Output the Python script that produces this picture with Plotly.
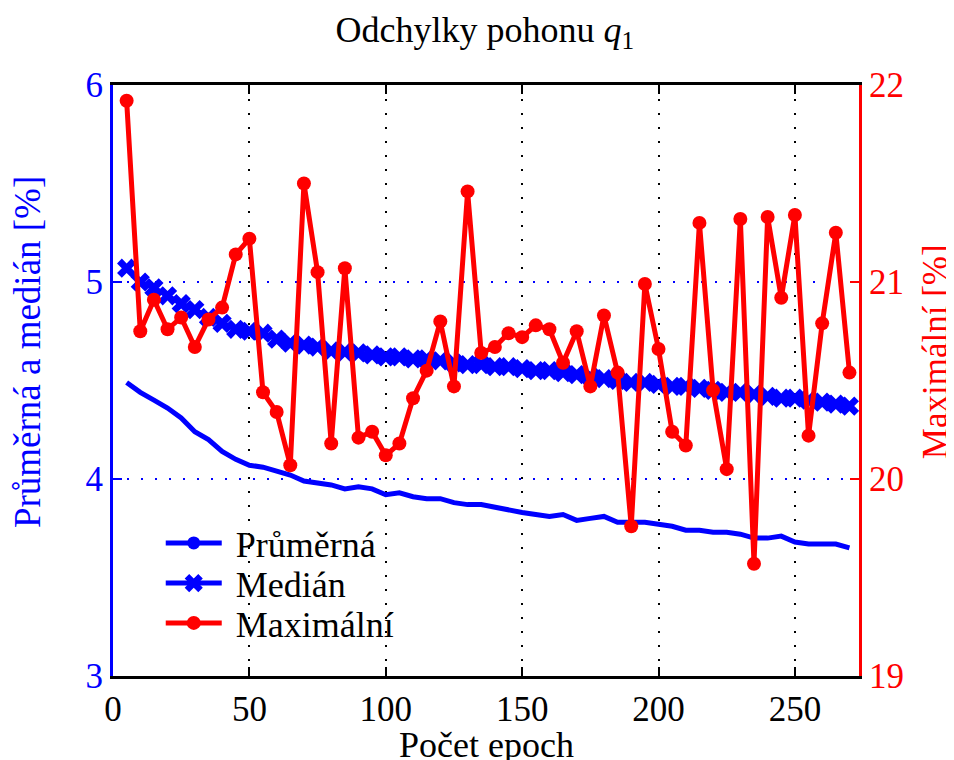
import plotly.graph_objects as go

epochs = list(range(5, 275, 5))

prumerna = [4.49, 4.44, 4.40, 4.36, 4.31, 4.24, 4.20, 4.14, 4.10, 4.07,
            4.06, 4.04, 4.02, 3.99, 3.98, 3.97, 3.95, 3.96, 3.95, 3.92,
            3.93, 3.91, 3.90, 3.90, 3.88, 3.87, 3.87, 3.855, 3.84, 3.83,
            3.82, 3.81, 3.82, 3.79, 3.80, 3.81, 3.78, 3.78, 3.78, 3.77,
            3.76, 3.74, 3.74, 3.73, 3.73, 3.72, 3.70, 3.70, 3.71, 3.68,
            3.67, 3.67, 3.67, 3.65]

median = [5.07, 5.00, 4.97, 4.93, 4.89, 4.86, 4.82, 4.79, 4.76, 4.75,
          4.74, 4.71, 4.69, 4.68, 4.67, 4.65, 4.645, 4.64, 4.63, 4.62,
          4.62, 4.61, 4.61, 4.60, 4.59, 4.58, 4.58, 4.57, 4.57, 4.56,
          4.55, 4.55, 4.54, 4.53, 4.52, 4.51, 4.50, 4.49, 4.49, 4.48,
          4.47, 4.47, 4.46, 4.45, 4.44, 4.44, 4.43, 4.42, 4.41, 4.41,
          4.40, 4.39, 4.38, 4.37]

maximalni = [21.92, 20.75, 20.91, 20.76, 20.82, 20.67, 20.81, 20.87, 21.14, 21.22,
             20.44, 20.34, 20.07, 21.50, 21.05, 20.18, 21.07, 20.21, 20.24, 20.12,
             20.18, 20.41, 20.55, 20.80, 20.47, 21.46, 20.64, 20.67, 20.74, 20.72,
             20.78, 20.76, 20.59, 20.75, 20.47, 20.83, 20.54, 19.76, 20.99, 20.66,
             20.24, 20.17, 21.30, 20.45, 20.05, 21.32, 19.57, 21.33, 20.92, 21.34,
             20.22, 20.79, 21.25, 20.54]

left_ticks = [3, 4, 5, 6]
right_ticks = [19, 20, 21, 22]
x_ticks = [0, 50, 100, 150, 200, 250]

FONT = "Liberation Serif"
BLUE = "#0000FF"
RED = "#FF0000"
NB = "\u00a0"

fig = go.Figure()

# mean line (drawn without markers; legend entry shows line + marker)
fig.add_trace(go.Scatter(x=epochs, y=prumerna, mode="lines",
                         line=dict(color=BLUE, width=5), showlegend=False,
                         hoverinfo="skip"))
fig.add_trace(go.Scatter(x=[None], y=[None], mode="lines+markers",
                         name=NB + "Průměrná", legend="legend",
                         line=dict(color=BLUE, width=5),
                         marker=dict(symbol="circle", size=13, color=BLUE)))
fig.add_trace(go.Scatter(x=epochs, y=median, mode="lines+markers",
                         name=NB + "Medián", legend="legend2",
                         line=dict(color=BLUE, width=5),
                         marker=dict(symbol="x", size=17, color=BLUE,
                                     line=dict(width=0))))
fig.add_trace(go.Scatter(x=epochs, y=maximalni, mode="lines+markers",
                         name=NB + "Maximální", legend="legend3",
                         yaxis="y2",
                         line=dict(color=RED, width=5),
                         marker=dict(symbol="circle", size=14, color=RED)))

legend_common = dict(x=0.064, xanchor="left", yanchor="middle",
                     bgcolor="rgba(0,0,0,0)", borderwidth=0, itemwidth=56,
                     font=dict(family=FONT, size=36, color="black"))

fig.update_layout(
    width=946, height=752,
    paper_bgcolor="white", plot_bgcolor="white",
    margin=dict(l=105, r=95, t=77, b=84),
    font=dict(family=FONT, size=35, color="black"),
    title=dict(text="Odchylky pohonu <i>q</i><sub>1</sub>", x=0.504, xanchor="center",
               y=1 - 21 / 752, yanchor="middle", yref="container",
               font=dict(family=FONT, size=36, color="black")),
    xaxis=dict(range=[0, 273.5], tickvals=x_ticks, ticks="inside", ticklen=9,
               tickwidth=2, tickcolor="black", showline=True, linecolor="black",
               linewidth=3, mirror="ticks", showgrid=True, gridcolor="black",
               griddash="2px,12px", gridwidth=2, zeroline=False, automargin=False,
               tickfont=dict(family=FONT, size=35, color="black")),
    yaxis=dict(range=[3, 6], tickvals=left_ticks, ticks="inside", ticklen=9,
               tickwidth=2, tickcolor=BLUE, showline=True, linecolor=BLUE,
               linewidth=3, showgrid=True, gridcolor=BLUE, griddash="2px,12px",
               gridwidth=2, zeroline=False, automargin=False,
               tickfont=dict(family=FONT, size=35, color=BLUE)),
    yaxis2=dict(range=[19, 22], tickvals=right_ticks, ticks="inside", ticklen=9,
                tickwidth=2, tickcolor=RED, showline=True, linecolor=RED,
                linewidth=3, overlaying="y", side="right", showgrid=False,
                zeroline=False, automargin=False,
                tickfont=dict(family=FONT, size=35, color=RED)),
    legend=dict(y=0.225, **legend_common),
    legend2=dict(y=0.157, **legend_common),
    legend3=dict(y=0.0897, **legend_common),
    showlegend=True,
    annotations=[
        dict(text="Počet epoch", xref="paper", yref="paper",
             x=0.5, y=-0.1168, xanchor="center", yanchor="middle",
             showarrow=False,
             font=dict(family=FONT, size=36, color="black")),
        dict(text="Průměrná a medián [%]", xref="paper", yref="paper",
             x=-0.1153, y=0.548, xanchor="center", yanchor="middle",
             textangle=-90, showarrow=False,
             font=dict(family=FONT, size=37, color=BLUE)),
        dict(text="Maximální [%]", xref="paper", yref="paper",
             x=1.1019, y=0.548, xanchor="center", yanchor="middle",
             textangle=-90, showarrow=False,
             font=dict(family=FONT, size=35, color=RED)),
    ],
)

fig.write_html("out.html")
